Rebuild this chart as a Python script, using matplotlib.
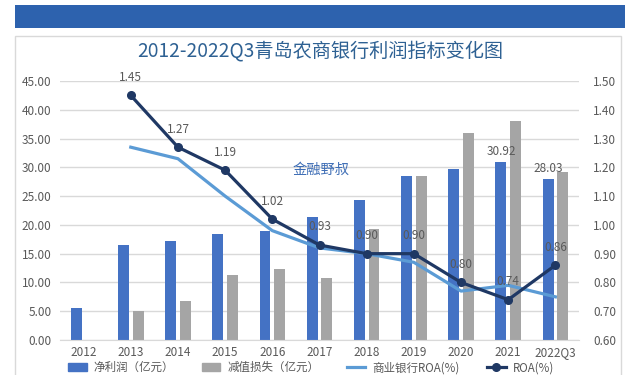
import numpy as np
import matplotlib
matplotlib.use("Agg")
import matplotlib.pyplot as plt
from matplotlib.patches import Rectangle, Patch
from matplotlib.lines import Line2D

plt.rcParams['font.family'] = ['Noto Sans CJK SC', 'DejaVu Sans']

years = ['2012', '2013', '2014', '2015', '2016', '2017', '2018', '2019', '2020', '2021', '2022Q3']
net_profit = [5.6, 16.5, 17.2, 18.4, 18.9, 21.4, 24.3, 28.5, 29.7, 30.92, 28.03]
impairment = [np.nan, 5.0, 6.8, 11.3, 12.3, 10.7, 19.3, 28.5, 36.0, 38.0, 29.2]
bank_roa = [np.nan, 1.27, 1.23, 1.10, 0.98, 0.92, 0.90, 0.87, 0.77, 0.79, 0.75]
roa = [np.nan, 1.45, 1.27, 1.19, 1.02, 0.93, 0.90, 0.90, 0.80, 0.74, 0.86]
profit_labelled = ['2021', '2022Q3']

c_blue = '#4472c4'
c_gray = '#a5a5a5'
c_light = '#5b9bd5'
c_navy = '#1f3864'
c_text = '#595959'

fig = plt.figure(figsize=(6.4, 3.75), dpi=100)
W, H = 640, 375

# top band and white panel frame (behind the axes)
fig.patches.append(Rectangle((15 / W, 1 - 28 / H), 610 / W, 23 / H, transform=fig.transFigure,
                             facecolor='#2d62ae', edgecolor='none', zorder=-2))
fig.patches.append(Rectangle((15 / W, -0.05), 606 / W, 1 - 36 / H + 0.05, transform=fig.transFigure,
                             facecolor='white', edgecolor='#d9d9d9', lw=1, zorder=-2))

fig.text(320 / W, 1 - 51 / H, '2012-2022Q3青岛农商银行利润指标变化图', ha='center', va='center',
         fontsize=13.8, color='#2e6193')

ax = fig.add_axes([60 / W, 35 / H, 519 / W, 259 / H])
ax.patch.set_alpha(0)
x = np.arange(len(years))
w = 0.23
ax.bar(x - 0.155, net_profit, w, color=c_blue, zorder=2)
ax.bar(x + 0.155, impairment, w, color=c_gray, zorder=2)
ax.set_xlim(-0.5, len(years) - 0.5)
ax.set_ylim(0, 45)
ax.set_yticks(np.arange(0, 46, 5))
ax.yaxis.set_major_formatter(matplotlib.ticker.FormatStrFormatter('%.2f'))
ax.set_xticks(x)
ax.set_xticklabels(years)
ax.grid(axis='y', color='#d9d9d9', lw=1, zorder=0)
ax.set_axisbelow(True)
for s in ['top', 'left', 'right']:
    ax.spines[s].set_visible(False)
ax.spines['bottom'].set_color('#d9d9d9')
ax.tick_params(length=0, labelsize=8.5, labelcolor=c_text)
ax.tick_params(axis='y', pad=6)
ax.tick_params(axis='x', pad=4)

for i, yr in enumerate(years):
    if yr in profit_labelled:
        ax.annotate(f'{net_profit[i]:.2f}', (x[i] - 0.155, net_profit[i]), xytext=(0, 3),
                    textcoords='offset points', ha='center', va='bottom', fontsize=8.5, color=c_text)

ax2 = ax.twinx()
ax2.set_ylim(0.6, 1.5)
ax2.set_yticks(np.arange(0.6, 1.51, 0.1))
ax2.yaxis.set_major_formatter(matplotlib.ticker.FormatStrFormatter('%.2f'))
for s in ['top', 'left', 'right', 'bottom']:
    ax2.spines[s].set_visible(False)
ax2.tick_params(length=0, labelsize=8.5, labelcolor=c_text, pad=10)

ax2.plot(x, bank_roa, color=c_light, lw=2.3, zorder=3)
ax2.plot(x, roa, color=c_navy, lw=2.3, marker='o', ms=5.5, zorder=4)
for i, v in enumerate(roa):
    if not np.isnan(v):
        ax2.annotate(f'{v:.2f}', (x[i], v), xytext=(0, 13), textcoords='offset points',
                     ha='center', va='center', fontsize=8.5, color=c_text)

fig.text(321 / W, 1 - 170 / H, '金融野叔', ha='center', va='center', fontsize=10.3, color='#3d6db5')

handles = [Patch(color=c_blue), Patch(color=c_gray),
           Line2D([], [], color=c_light, lw=2.3),
           Line2D([], [], color=c_navy, lw=2.3, marker='o', ms=5.5)]
labels = ['净利润（亿元）', '减值损失（亿元）', '商业银行ROA(%)', 'ROA(%)']
fig.legend(handles, labels, ncol=4, loc='lower center', bbox_to_anchor=(0.486, -0.016),
           frameon=False, fontsize=8.3, labelcolor=c_text, handlelength=1.6, handletextpad=0.6,
           columnspacing=2.4, borderpad=0.1)

fig.savefig('out.png', dpi=100, facecolor='white')
